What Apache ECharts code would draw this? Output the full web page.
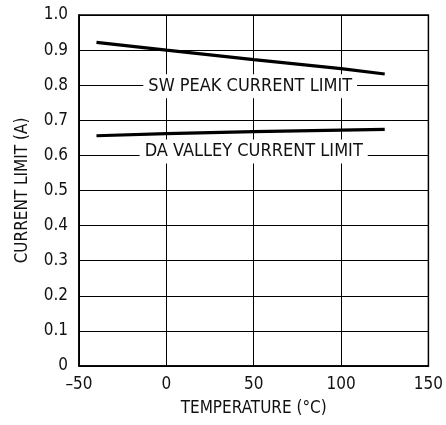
<!DOCTYPE html>
<html>
<head>
<meta charset="utf-8">
<script src="https://cdn.jsdelivr.net/npm/echarts@6/dist/echarts.min.js"></script>
<style>
html,body{margin:0;padding:0;background:#fff;}
#chart{width:446px;height:425px;}
</style>
</head>
<body>
<div id="chart"></div>
<script>
const temps = [-40, 0, 50, 100, 125];
const swPeak = [0.922, 0.900, 0.873, 0.847, 0.832];
const daValley = [0.656, 0.662, 0.668, 0.672, 0.674];
const labelText = ['SW PEAK CURRENT LIMIT', 'DA VALLEY CURRENT LIMIT'];
const labelPos = [[48, 0.8], [50, 0.6]];
const xTitle = 'TEMPERATURE (°C)';
const yTitle = 'CURRENT LIMIT (A)';

const FONT = '"DejaVu Sans Condensed", "Liberation Sans Narrow", sans-serif';
const labelOffsets = [[0, 1], [0, -4]];
const chart = echarts.init(document.getElementById('chart'));
chart.setOption({
  animation: false,
  backgroundColor: '#fff',
  grid: { left: 79, right: 15, top: 15, bottom: 59, show: true, borderColor: '#000', borderWidth: 1.5, backgroundColor: 'transparent' },
  xAxis: {
    type: 'value', min: -50, max: 150, interval: 50,
    name: xTitle, nameLocation: 'middle', nameGap: 34,
    nameTextStyle: { fontFamily: FONT, fontSize: 17, color: '#111' },
    axisLine: { show: true, onZero: false, lineStyle: { color: '#000', width: 1.5 } },
    axisTick: { show: false },
    axisLabel: { fontFamily: FONT, fontSize: 17, color: '#111', margin: 10,
      formatter: v => String(v).replace('-', '\u2013') },
    splitLine: { show: true, lineStyle: { color: '#000', width: 1 } }
  },
  yAxis: {
    type: 'value', min: 0, max: 1.0, interval: 0.1,
    name: yTitle, nameLocation: 'middle', nameGap: 48,
    nameTextStyle: { fontFamily: FONT, fontSize: 17, color: '#111' },
    axisLine: { show: true, onZero: false, lineStyle: { color: '#000', width: 1.5 } },
    axisTick: { show: false },
    axisLabel: { fontFamily: FONT, fontSize: 17, color: '#111', margin: 11,
      formatter: v => v === 0 ? '0' : v.toFixed(1) },
    splitLine: { show: true, lineStyle: { color: '#000', width: 1 } }
  },
  series: [
    { type: 'line', data: temps.map((t, i) => [t, swPeak[i]]), symbol: 'none',
      lineStyle: { color: '#000', width: 3.2 }, z: 3 },
    { type: 'line', data: temps.map((t, i) => [t, daValley[i]]), symbol: 'none',
      lineStyle: { color: '#000', width: 3.2 }, z: 3 },
    { type: 'scatter', data: labelPos.map((p, i) => ({ value: p, name: labelText[i],
        label: { offset: labelOffsets[i] } })),
      symbolSize: 0, z: 5, silent: true,
      itemStyle: { opacity: 1, color: '#000' },
      label: { show: true, position: 'inside', formatter: p => p.name, opacity: 1,
        fontFamily: FONT, fontSize: 18, color: '#111', backgroundColor: '#fff',
        textBorderWidth: 0, padding: [3, 5, 3, 5] } }
  ]
});
</script>
</body>
</html>
